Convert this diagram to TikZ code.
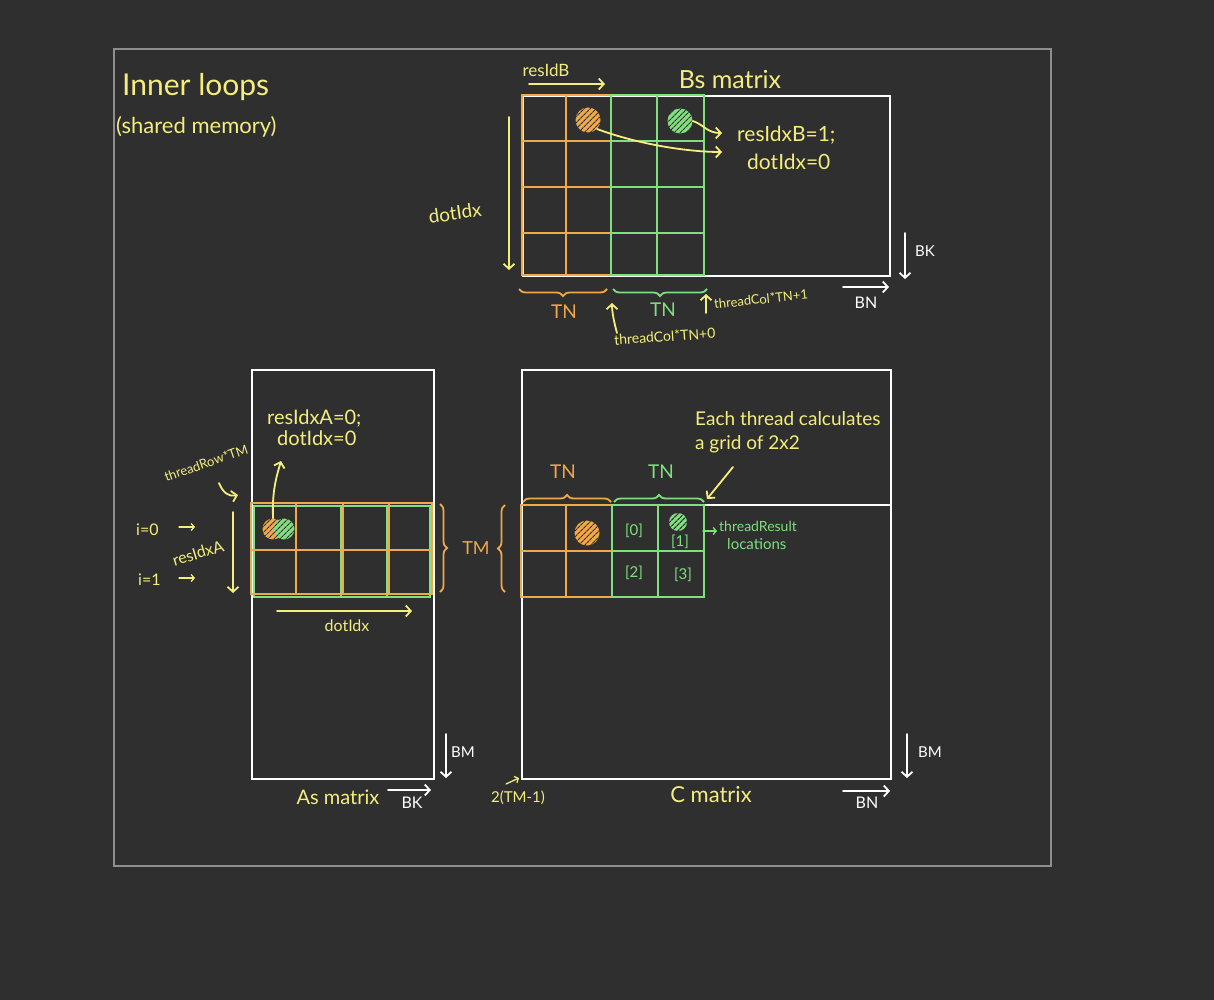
\documentclass[tikz,border=0pt]{standalone}
\usepackage{fontspec}
\setmainfont{Lato}
\usetikzlibrary{arrows.meta,patterns.meta,decorations.pathreplacing}
\definecolor{bg}{HTML}{2F2F2F}
\definecolor{yel}{HTML}{F4EE7C}
\definecolor{org}{HTML}{F0A848}
\definecolor{grn}{HTML}{80E07E}
\definecolor{frm}{HTML}{8E8E8E}
\begin{document}
\begin{tikzpicture}[x=1pt,y=-1pt,
  every node/.style={inner sep=0pt},
  fs/.style={font=\fontsize{#1}{#1}\selectfont},
  lbl/.style={text=yel, fs=#1},
  wlbl/.style={text=white, fs=#1},
  olbl/.style={text=org, fs=#1},
  glbl/.style={text=grn, fs=#1},
  matbox/.style={draw=white, line width=2.2pt, anchor=north west},
  gl/.style={line width=2.2pt},
  arr/.style={line width=1.8pt, line cap=round, -{Straight Barb[length=5pt,width=11pt,line width=1.8pt]}},
  sarr/.style={line width=1.3pt, line cap=round, -{Straight Barb[length=3pt,width=7pt,line width=1.3pt]}},
  brc/.style={decorate, decoration={brace, amplitude=7pt}, line width=1.8pt},
  hatch/.style={circle, minimum size=#1, postaction={pattern={Lines[angle=45,distance=4pt,line width=1.2pt]}, pattern color=bg}},
]
\useasboundingbox (0,0) rectangle (1214,1000);
\fill[bg] (0,0) rectangle (1214,1000);
\node[draw=frm, line width=2pt, minimum width=937pt, minimum height=817pt, anchor=north west] (frame) at (113,48) {};

% title
\node[lbl=30, anchor=west] (t1) at (122,87) {Inner loops};
\node[lbl=22, anchor=west] (t2) at (116,127) {(shared memory)};

% ---------------- Bs matrix ----------------
\node[matbox, minimum width=367pt, minimum height=180pt] (Bs) at (522,95) {};
\draw[org, gl] (522,95) rectangle (611,275);
\draw[org, gl] (566,95) -- (566,275);
\foreach \yy in {141,187,233} \draw[org, gl] (522,\yy) -- (611,\yy);
\draw[grn, gl] (611,95) rectangle (704,275);
\draw[grn, gl] (657,95) -- (657,275);
\foreach \yy in {141,187,233} \draw[grn, gl] (611,\yy) -- (704,\yy);
\node[hatch=25pt, fill=org] (bo) at (588,120) {};
\node[hatch=25pt, fill=grn] (bg1) at (680,121) {};

\node[lbl=17] (lresB) at (546,70) {resIdB};
\coordinate (rb1) at (529,84); \coordinate (rb2) at (605,84);
\draw[yel, arr] (rb1) -- (rb2);
\node[lbl=25] (lBs) at (730,79) {Bs matrix};
\node[lbl=21, anchor=west] (lrb) at (737,135) {resIdxB=1;};
\node[lbl=21, anchor=west] (ldb) at (747,162) {dotIdx=0};
\coordinate (cg) at (722,133); \coordinate (co) at (722,152);
\draw[yel, arr] (bg1.east) .. controls (703,124) and (707,133) .. (cg);
\draw[yel, arr] (bo.south east) .. controls (640,145) and (690,152) .. (co);
\node[lbl=19, rotate=8] (ldot) at (455,213) {dotIdx};
\coordinate (d1) at (509,117); \coordinate (d2) at (509,270);
\draw[yel, arr] (d1) -- (d2);

\draw[org, brc] (607,289) -- (519,289);
\draw[grn, brc] (707,289) -- (613,289);
\node[olbl=19] (tn1) at (564,312) {TN};
\node[glbl=19] (tn2) at (663,310) {TN};
\coordinate (a0s) at (617,333); \coordinate (a0e) at (612,303);
\draw[yel, arr] (a0s) .. controls (614,322) and (612,312) .. (a0e);
\node[lbl=14, rotate=4, anchor=west] (tc0) at (614,340) {threadCol*TN+0};
\coordinate (a1s) at (706,313); \coordinate (a1e) at (706,294);
\draw[yel, arr] (a1s) -- (a1e);
\node[lbl=13, rotate=6, anchor=west] (tc1) at (714,304) {threadCol*TN+1};
\coordinate (bk1) at (905,233); \coordinate (bk2) at (905,279);
\draw[white, arr] (bk1) -- (bk2);
\node[wlbl=15] (lbk) at (925,251) {BK};
\coordinate (bn1) at (843,287); \coordinate (bn2) at (889,287);
\draw[white, arr] (bn1) -- (bn2);
\node[wlbl=16] (lbn) at (866,303) {BN};

% ---------------- As matrix ----------------
\node[matbox, minimum width=182pt, minimum height=409pt] (As) at (251,369) {};
\draw[grn, gl] (254,506) rectangle (430,597);
\draw[grn, gl] (341,506) -- (341,597);
\draw[grn, gl] (387,506) -- (387,597);
\draw[org, gl] (251,503) rectangle (432,594);
\foreach \xx in {296,343,389} \draw[org, gl] (\xx,503) -- (\xx,594);
\draw[org, gl] (251,550) -- (432,550);
\node[hatch=21pt, fill=org] (ao) at (273,529) {};
\node[hatch=21pt, fill=grn] (ag) at (284,529) {};
\coordinate (aa) at (281,461);
\draw[yel, arr] (ao.north) .. controls (272,492) and (276,478) .. (aa);
\node[lbl=20, anchor=west] (lra) at (267,418) {resIdxA=0;};
\node[lbl=20, anchor=west] (lda) at (277,438) {dotIdx=0};
\node[lbl=13, rotate=19] (ltr) at (206,463) {threadRow*TM};
\coordinate (tr1) at (219,483); \coordinate (tr2) at (238,495);
\draw[yel, arr] (tr1) .. controls (223,493) and (229,497) .. (tr2);
\node[lbl=16, anchor=west] (li0) at (136,530) {i=0};
\node[lbl=16, anchor=west] (li1) at (138,580) {i=1};
\coordinate (i0a) at (179,527); \coordinate (i0b) at (195,527);
\draw[yel, sarr] (i0a) -- (i0b);
\coordinate (i1a) at (179,578); \coordinate (i1b) at (195,578);
\draw[yel, sarr] (i1a) -- (i1b);
\node[lbl=16, rotate=17] (lria) at (198,553) {resIdxA};
\coordinate (v1) at (233,512); \coordinate (v2) at (233,593);
\draw[yel, arr] (v1) -- (v2);
\coordinate (h1) at (277,611); \coordinate (h2) at (412,611);
\draw[yel, arr] (h1) -- (h2);
\node[lbl=16] (ldi) at (347,626) {dotIdx};

\draw[org, brc] (440,504) -- (440,592);
\node[olbl=18] (ltm) at (476,548) {TM};
\draw[org, brc] (505,592) -- (505,505);

\node[lbl=20] (las) at (338,797) {As matrix};
\coordinate (bka) at (388,790); \coordinate (bkb) at (431,790);
\draw[white, arr] (bka) -- (bkb);
\node[wlbl=16] (lbk2) at (412,803) {BK};
\coordinate (bma) at (446,734); \coordinate (bmb) at (446,778);
\draw[white, arr] (bma) -- (bmb);
\node[wlbl=15] (lbm) at (463,752) {BM};

% ---------------- C matrix ----------------
\node[matbox, minimum width=369pt, minimum height=409pt] (C) at (521,369) {};
\draw[white, gl] (521,505) -- (890,505);
\draw[org, gl] (521,505) rectangle (612,597);
\draw[org, gl] (566,505) -- (566,597);
\draw[org, gl] (521,551) -- (612,551);
\draw[grn, gl] (612,505) rectangle (704,597);
\draw[grn, gl] (658,505) -- (658,597);
\draw[grn, gl] (612,551) -- (704,551);
\node[hatch=25pt, fill=org] (co1) at (587,533) {};
\node[hatch=18pt, fill=grn] (cg1) at (678,522) {};
\node[glbl=15] (r0) at (634,531) {[0]};
\node[glbl=15] (r1) at (680,542) {[1]};
\node[glbl=15] (r2) at (634,573) {[2]};
\node[glbl=15] (r3) at (683,575) {[3]};
\coordinate (ra) at (703,531); \coordinate (rb) at (717,531);
\draw[grn, sarr] (ra) -- (rb);
\node[glbl=14, anchor=west] (ltres) at (719,526) {threadResult};
\node[glbl=15, anchor=west] (lloc) at (727,544) {locations};

\draw[org, brc] (523,502) -- (611,502);
\draw[grn, brc] (614,502) -- (704,502);
\node[olbl=19] (ctn1) at (563,472) {TN};
\node[glbl=19] (ctn2) at (661,472) {TN};
\node[lbl=19, anchor=west] (le1) at (695,419) {Each thread calculates};
\node[lbl=19, anchor=west] (le2) at (695,444) {a grid of 2x2};
\coordinate (ea) at (733,467); \coordinate (eb) at (707,499);
\draw[yel, arr] (ea) -- (eb);

\node[lbl=22] (lc) at (711,795) {C matrix};
\node[lbl=15] (l2tm) at (518,798) {2(TM-1)};
\coordinate (ta) at (506,784); \coordinate (tb) at (519,778);
\draw[yel, sarr] (ta) -- (tb);
\coordinate (bnc1) at (843,791); \coordinate (bnc2) at (890,791);
\draw[white, arr] (bnc1) -- (bnc2);
\node[wlbl=16] (lbn2) at (867,803) {BN};
\coordinate (bmc1) at (907,734); \coordinate (bmc2) at (907,778);
\draw[white, arr] (bmc1) -- (bmc2);
\node[wlbl=15] (lbm2) at (930,752) {BM};
\end{tikzpicture}
\end{document}
